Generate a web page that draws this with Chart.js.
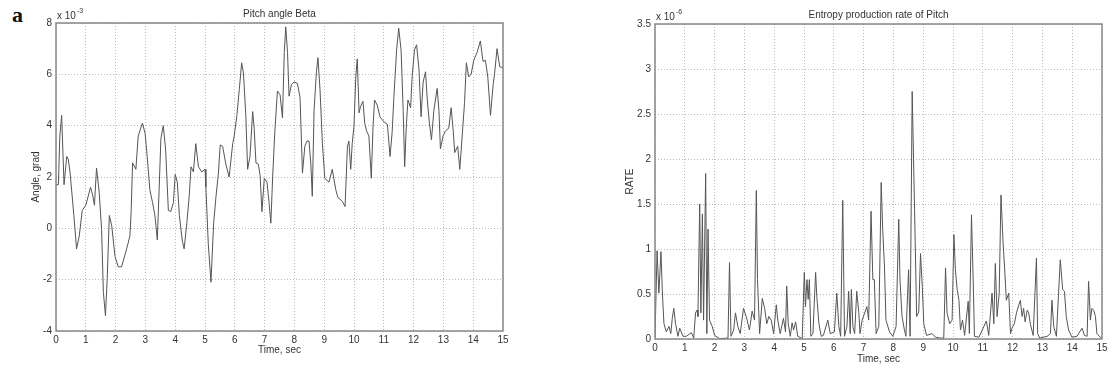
<!DOCTYPE html>
<html>
<head>
<meta charset="utf-8">
<script src="https://cdn.jsdelivr.net/npm/chart.js@4"></script>
<style>
  body { margin: 0; background: #fff; width: 1116px; height: 372px; overflow: hidden; position: relative; }
  .panel { position: absolute; top: 0; height: 372px; }
  #lbl { position: absolute; left: 12px; top: 2px; font: bold 22px "Liberation Serif", serif; color: #111; }
</style>
</head>
<body>
<div id="lbl">a</div>
<div class="panel" style="left:0;width:520px"><canvas id="beta"></canvas></div>
<div class="panel" style="left:580px;width:536px"><canvas id="rate"></canvas></div>
<script>
// Pitch angle Beta (x 10^-3)
const betaTime = [0, 0.08, 0.13, 0.19, 0.27, 0.36, 0.41, 0.47, 0.60, 0.69, 0.78, 0.88, 1.00, 1.16, 1.23, 1.29, 1.36, 1.45, 1.53, 1.59,
  1.66, 1.72, 1.79, 1.87, 1.98, 2.09, 2.20, 2.37, 2.48, 2.52, 2.57, 2.68, 2.76, 2.90, 2.99, 3.06, 3.15, 3.24, 3.32, 3.40,
  3.46, 3.52, 3.60, 3.68, 3.77, 3.85, 3.94, 4.00, 4.07, 4.14, 4.24, 4.30, 4.39, 4.47, 4.53, 4.61, 4.69, 4.78, 4.89, 5.00,
  5.03, 5.11, 5.20, 5.29, 5.37, 5.45, 5.51, 5.59, 5.70, 5.81, 5.93, 5.98, 6.07, 6.15, 6.23, 6.29, 6.37, 6.43, 6.51, 6.60,
  6.65, 6.71, 6.79, 6.85, 6.91, 6.99, 7.08, 7.15, 7.21, 7.27, 7.34, 7.43, 7.52, 7.60, 7.66, 7.71, 7.77, 7.82, 7.90, 7.99,
  8.10, 8.19, 8.27, 8.35, 8.42, 8.49, 8.55, 8.60, 8.66, 8.74, 8.79, 8.86, 8.94, 9.02, 9.16, 9.27, 9.39, 9.46, 9.61, 9.70,
  9.78, 9.83, 9.89, 9.94, 10.00, 10.06, 10.11, 10.17, 10.22, 10.30, 10.36, 10.42, 10.50, 10.58, 10.64, 10.69, 10.78, 10.87, 11.00, 11.12,
  11.21, 11.28, 11.34, 11.43, 11.50, 11.58, 11.65, 11.70, 11.76, 11.81, 11.90, 11.95, 12.03, 12.10, 12.18, 12.25, 12.32, 12.40, 12.46, 12.53,
  12.60, 12.68, 12.79, 12.85, 12.90, 12.99, 13.07, 13.18, 13.26, 13.33, 13.38, 13.48, 13.55, 13.63, 13.71, 13.77, 13.85, 13.93, 14.02, 14.13,
  14.24, 14.33, 14.41, 14.49, 14.58, 14.67, 14.72, 14.80, 14.89, 15.00];
const beta = [1.7, 1.7, 3.6, 4.4, 1.7, 2.8, 2.7, 2.2, 0.5, -0.8, -0.3, 0.7, 0.9, 1.6, 1.3, 0.9, 2.35, 1.4, -0.05, -2.5,
  -3.4, -1.9, 0.5, 0.1, -1.1, -1.5, -1.5, -0.8, -0.3, 0.6, 2.55, 2.3, 3.6, 4.1, 3.7, 2.8, 1.5, 1.0, 0.5, -0.45,
  1.5, 3.5, 4.0, 3.05, 0.7, 0.65, 1.0, 2.1, 1.8, 0.5, -0.5, -0.8, 0.2, 1.25, 2.4, 2.2, 3.3, 2.4, 2.2, 2.3,
  1.6, -0.6, -2.1, 0.2, 1.25, 2.15, 3.25, 3.2, 2.5, 2.0, 3.3, 3.6, 4.4, 5.4, 6.45, 6.05, 4.4, 2.3, 2.8, 4.55,
  3.9, 2.55, 2.5, 2.05, 0.65, 1.95, 1.8, 1.0, 0.2, 2.0, 3.7, 5.35, 5.2, 4.3, 6.85, 7.85, 6.85, 5.15, 5.6, 5.7,
  5.65, 5.1, 2.15, 3.2, 3.4, 3.4, 2.55, 1.25, 4.6, 6.1, 6.65, 5.4, 3.3, 1.95, 1.8, 2.3, 1.5, 1.2, 1.05, 0.85,
  3.2, 3.4, 2.3, 3.3, 4.0, 5.9, 6.6, 4.5, 4.75, 4.95, 4.1, 3.8, 3.6, 1.95, 4.0, 5.0, 4.8, 4.35, 4.15, 4.05,
  2.8, 3.75, 5.15, 6.95, 7.8, 6.95, 4.6, 2.4, 4.1, 5.0, 4.7, 5.9, 6.95, 7.15, 6.2, 4.35, 5.7, 6.1, 5.0, 4.1,
  3.45, 4.6, 5.45, 4.6, 3.1, 3.6, 3.8, 3.9, 4.7, 3.8, 2.95, 3.2, 2.3, 3.6, 4.9, 6.45, 5.9, 6.0, 6.55, 6.85,
  7.3, 6.5, 6.55, 5.9, 4.4, 5.6, 6.05, 7.0, 6.3, 6.25];

// Entropy production rate of Pitch
const rateTime = [0, 0.07, 0.13, 0.20, 0.25, 0.30, 0.38, 0.47, 0.53, 0.58, 0.63, 0.69, 0.77, 0.83, 0.94, 1.05, 1.22, 1.30, 1.36, 1.41,
  1.44, 1.50, 1.54, 1.59, 1.63, 1.70, 1.74, 1.78, 1.83, 1.92, 2.00, 2.17, 2.45, 2.50, 2.55, 2.64, 2.70, 2.78, 2.86, 2.97,
  3.06, 3.17, 3.26, 3.34, 3.40, 3.44, 3.51, 3.60, 3.68, 3.75, 3.82, 3.90, 3.98, 4.07, 4.12, 4.20, 4.31, 4.38, 4.42, 4.47,
  4.54, 4.60, 4.65, 4.72, 4.79, 4.94, 5.01, 5.05, 5.10, 5.14, 5.18, 5.23, 5.30, 5.39, 5.43, 5.50, 5.58, 5.65, 5.80, 5.88,
  6.02, 6.10, 6.17, 6.23, 6.30, 6.36, 6.44, 6.50, 6.55, 6.59, 6.64, 6.70, 6.77, 6.84, 6.88, 6.95, 7.11, 7.17, 7.25, 7.31,
  7.36, 7.42, 7.51, 7.59, 7.64, 7.70, 7.75, 7.87, 7.98, 8.09, 8.18, 8.22, 8.29, 8.37, 8.42, 8.51, 8.56, 8.63, 8.71, 8.78,
  8.85, 8.91, 8.97, 9.02, 9.11, 9.30, 9.41, 9.58, 9.69, 9.75, 9.80, 9.89, 9.97, 10.03, 10.08, 10.14, 10.20, 10.25, 10.32, 10.39,
  10.51, 10.55, 10.62, 10.68, 10.72, 10.87, 11.12, 11.20, 11.31, 11.37, 11.42, 11.48, 11.55, 11.61, 11.68, 11.73, 11.79, 11.87, 11.93, 11.98,
  12.06, 12.13, 12.21, 12.26, 12.32, 12.37, 12.42, 12.49, 12.54, 12.60, 12.69, 12.80, 12.84, 12.91, 13.16, 13.27, 13.32, 13.38, 13.47, 13.60,
  13.68, 13.74, 13.80, 13.88, 13.99, 14.16, 14.33, 14.41, 14.50, 14.55, 14.61, 14.66, 14.72, 14.78, 14.83, 14.94, 15.00];
const rate = [0.02, 0.98, 0.51, 0.97, 0.50, 0.17, 0.08, 0.14, 0.06, 0.23, 0.34, 0.17, 0.03, 0.12, 0.03, 0.03, 0.07, 0.01, 0.29, 0.32,
  0.25, 1.50, 0.29, 1.39, 0.21, 1.84, 0.06, 1.22, 0.21, 0.14, 0.04, 0.005, 0.01, 0.85, 0.03, 0.10, 0.29, 0.14, 0.06, 0.34,
  0.25, 0.10, 0.31, 0.21, 1.65, 0.66, 0.06, 0.45, 0.34, 0.17, 0.25, 0.21, 0.06, 0.38, 0.21, 0.06, 0.23, 0.08, 0.59, 0.17,
  0.03, 0.18, 0.10, 0.19, 0.03, 0.005, 0.74, 0.36, 0.66, 0.44, 0.66, 0.03, 0.06, 0.74, 0.47, 0.17, 0.03, 0.04, 0.21, 0.06,
  0.08, 0.51, 0.14, 0.03, 1.54, 0.03, 0.14, 0.53, 0.06, 0.55, 0.14, 0.06, 0.53, 0.29, 0.06, 0.21, 0.36, 0.21, 1.42, 0.66,
  0.66, 0.06, 0.14, 1.74, 1.22, 0.81, 0.21, 0.08, 0.03, 0.14, 1.33, 0.66, 0.25, 0.10, 0.03, 0.77, 0.03, 2.75, 1.44, 0.25,
  0.30, 0.95, 0.58, 0.17, 0.04, 0.06, 0.02, 0.01, 0.01, 0.79, 0.29, 0.17, 0.21, 1.16, 0.77, 0.55, 0.43, 0.10, 0.21, 0.04,
  0.42, 0.06, 1.38, 0.62, 0.03, 0.02, 0.20, 0.04, 0.51, 0.17, 0.84, 0.25, 0.51, 1.60, 1.07, 0.80, 0.43, 0.51, 0.06, 0.12,
  0.17, 0.29, 0.38, 0.43, 0.25, 0.34, 0.19, 0.32, 0.29, 0.16, 0.04, 0.90, 0.06, 0.01, 0.03, 0.06, 0.43, 0.14, 0.03, 0.88,
  0.55, 0.53, 0.25, 0.10, 0.02, 0.03, 0.12, 0.04, 0.03, 0.64, 0.21, 0.34, 0.32, 0.25, 0.06, 0.02, 0.01];

const timeTicks = [0, 1, 2, 3, 4, 5, 6, 7, 8, 9, 10, 11, 12, 13, 14, 15];

Chart.defaults.font.family = '"Liberation Sans", Arial, sans-serif';
Chart.defaults.font.size = 10;
Chart.defaults.color = '#333';

// box around the plot, title on top and the "x 10^n" multiplier
const frame = {
  id: 'frame',
  afterDraw(chart, args, opts) {
    const { ctx, chartArea: a } = chart;
    ctx.save();
    ctx.strokeStyle = '#888';
    ctx.lineWidth = 1.5;
    ctx.strokeRect(a.left, a.top, a.right - a.left, a.bottom - a.top);
    ctx.fillStyle = '#333';
    ctx.font = '10px "Liberation Sans", Arial, sans-serif';
    ctx.textAlign = 'center';
    ctx.fillText(opts.title, (a.left + a.right) / 2, a.top - 6);
    ctx.textAlign = 'left';
    ctx.fillText('x 10', a.left + 1, a.top - 4);
    const w = ctx.measureText('x 10').width;
    ctx.font = '7px "Liberation Sans", Arial, sans-serif';
    ctx.fillText(opts.exp, a.left + 2 + w, a.top - 10);
    ctx.restore();
  }
};

function makeChart(id, xs, ys, cfg) {
  return new Chart(document.getElementById(id), {
    type: 'line',
    data: {
      datasets: [{
        data: xs.map((t, i) => ({ x: t, y: ys[i] })),
        borderColor: '#555',
        borderWidth: 1,
        pointRadius: 0,
        tension: 0
      }]
    },
    options: {
      responsive: true,
      maintainAspectRatio: false,
      animation: false,
      layout: { padding: cfg.padding },
      plugins: {
        legend: { display: false },
        tooltip: { enabled: false },
        frame: { title: cfg.title, exp: cfg.exp }
      },
      scales: {
        x: {
          type: 'linear',
          min: 0, max: 15,
          afterBuildTicks: s => { s.ticks = timeTicks.map(v => ({ value: v })); },
          afterFit: s => { s.height = cfg.xHeight; },
          ticks: { padding: 3, maxRotation: 0, color: '#333' },
          grid: { color: '#bbb', drawTicks: false },
          border: { display: false, dash: [1, 2] },
          title: { display: true, text: 'Time, sec', color: '#333', padding: { top: 0, bottom: cfg.xTitlePad } }
        },
        y: {
          min: cfg.yMin, max: cfg.yMax,
          ticks: { stepSize: cfg.yStep, padding: 4, color: '#333', callback: v => String(v) },
          afterFit: s => { s.width = cfg.yWidth; },
          grid: { color: '#bbb', drawTicks: false },
          border: { display: false, dash: [1, 2] },
          title: { display: true, text: cfg.yTitle, color: '#333', padding: { top: cfg.yTitlePad, bottom: 0 } }
        }
      }
    },
    plugins: [frame]
  });
}

makeChart('beta', betaTime, beta, {
  title: 'Pitch angle Beta', exp: '-3', yTitle: 'Angle, grad',
  yMin: -4, yMax: 8, yStep: 2,
  padding: { left: 26, right: 17, top: 23, bottom: 0 },
  yWidth: 30, xHeight: 41, xTitlePad: 16, yTitlePad: 4
});

makeChart('rate', rateTime, rate, {
  title: 'Entropy production rate of Pitch', exp: '-6', yTitle: 'RATE',
  yMin: 0, yMax: 3.5, yStep: 0.5,
  padding: { left: 42, right: 14, top: 24, bottom: 0 },
  yWidth: 33, xHeight: 33, xTitlePad: 7, yTitlePad: 2
});
</script>
</body>
</html>
